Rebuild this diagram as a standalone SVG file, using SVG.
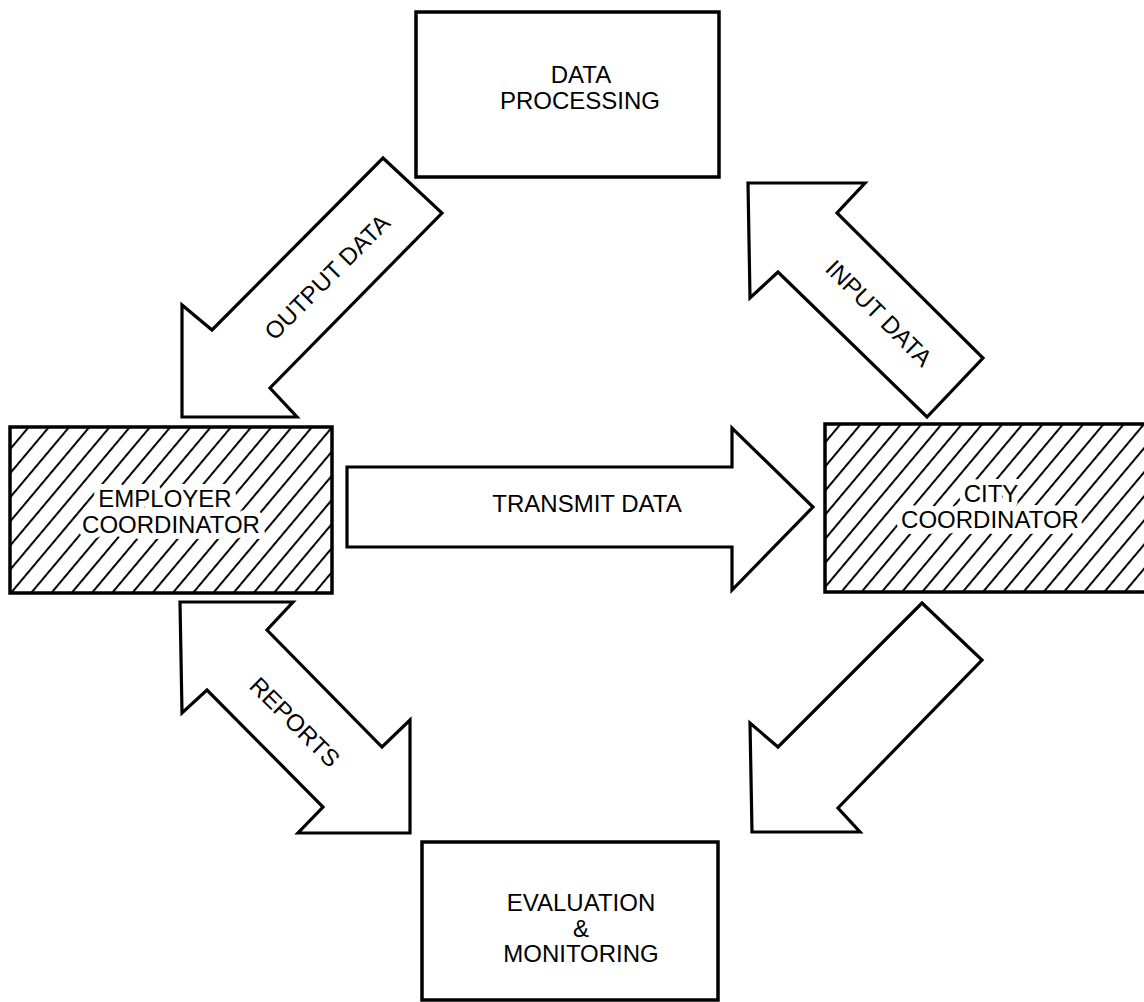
<svg xmlns="http://www.w3.org/2000/svg" width="1144" height="1002" viewBox="0 0 1144 1002">
  <style>
    .box { fill: #fff; stroke: #000; stroke-width: 3.5; }
    .hatched { fill: url(#hatch); stroke: #000; stroke-width: 3.5; }
    .arrow { fill: #fff; stroke: #000; stroke-width: 3.2; stroke-linejoin: miter; }
    text { font-family: "Liberation Sans", Arial, sans-serif; font-size: 24px; fill: #000; text-anchor: middle; }
    .knock { stroke: #fff; stroke-width: 12; stroke-linejoin: round; paint-order: stroke; }
  </style>
  <defs>
    <!-- diagonal hatching used for the coordinator boxes -->
    <pattern id="hatch" patternUnits="userSpaceOnUse" width="15.5" height="15.5" patternTransform="rotate(40)">
      <rect width="15.5" height="15.5" fill="#fff"/>
      <line x1="2" y1="0" x2="2" y2="15.5" stroke="#000" stroke-width="2"/>
    </pattern>
  </defs>

  <rect width="1144" height="1002" fill="#fff"/>

  <g id="connectors">
    <!-- OUTPUT DATA: data processing -> employer coordinator -->
    <g id="arrow-output-data">
      <polygon class="arrow" points="383,158 442,213 270,388 297,417 182,417 182,305 212,330"/>
      <text transform="translate(327,277) rotate(-45)" y="8.5" font-size="25">OUTPUT DATA</text>
    </g>
    <!-- INPUT DATA: city coordinator -> data processing -->
    <g id="arrow-input-data">
      <polygon class="arrow" points="748,183 865,183 837,213 983,358 927,417 778,272 750,298"/>
      <text transform="translate(879,313) rotate(45)" y="8.5" font-size="25">INPUT DATA</text>
    </g>
    <!-- TRANSMIT DATA: employer coordinator -> city coordinator -->
    <g id="arrow-transmit-data">
      <polygon class="arrow" points="347,467 732,467 732,428 813,507 732,590 732,547 347,547"/>
      <text x="587" y="512">TRANSMIT DATA</text>
    </g>
    <!-- REPORTS: employer coordinator <-> evaluation & monitoring -->
    <g id="arrow-reports">
      <polygon class="arrow" points="180,602 293,602 267,630 382,747 410,720 410,833 298,833 323,807 207,690 182,713"/>
      <text transform="translate(295,722) rotate(45)" y="8.5">REPORTS</text>
    </g>
    <!-- city coordinator -> evaluation & monitoring -->
    <g id="arrow-city-evaluation">
      <polygon class="arrow" points="922,603 982,660 838,808 860,832 752,832 750,723 778,747"/>
    </g>
  </g>

  <g id="node-data-processing">
    <rect class="box" x="416" y="12" width="303" height="165"/>
    <text x="581" y="83">DATA</text>
    <text x="580" y="109">PROCESSING</text>
  </g>

  <g id="node-employer-coordinator">
    <rect class="hatched" x="10" y="427" width="322" height="166"/>
    <text class="knock" x="165" y="507">EMPLOYER</text>
    <text class="knock" x="171" y="533">COORDINATOR</text>
  </g>

  <g id="node-city-coordinator">
    <rect class="hatched" x="825" y="424" width="340" height="168"/>
    <text class="knock" x="991" y="502">CITY</text>
    <text class="knock" x="990" y="528">COORDINATOR</text>
  </g>

  <g id="node-evaluation-monitoring">
    <rect class="box" x="422" y="842" width="296" height="158"/>
    <text x="581" y="911">EVALUATION</text>
    <text x="581" y="937" font-size="16">&amp;</text>
    <text x="581" y="962">MONITORING</text>
  </g>
</svg>
